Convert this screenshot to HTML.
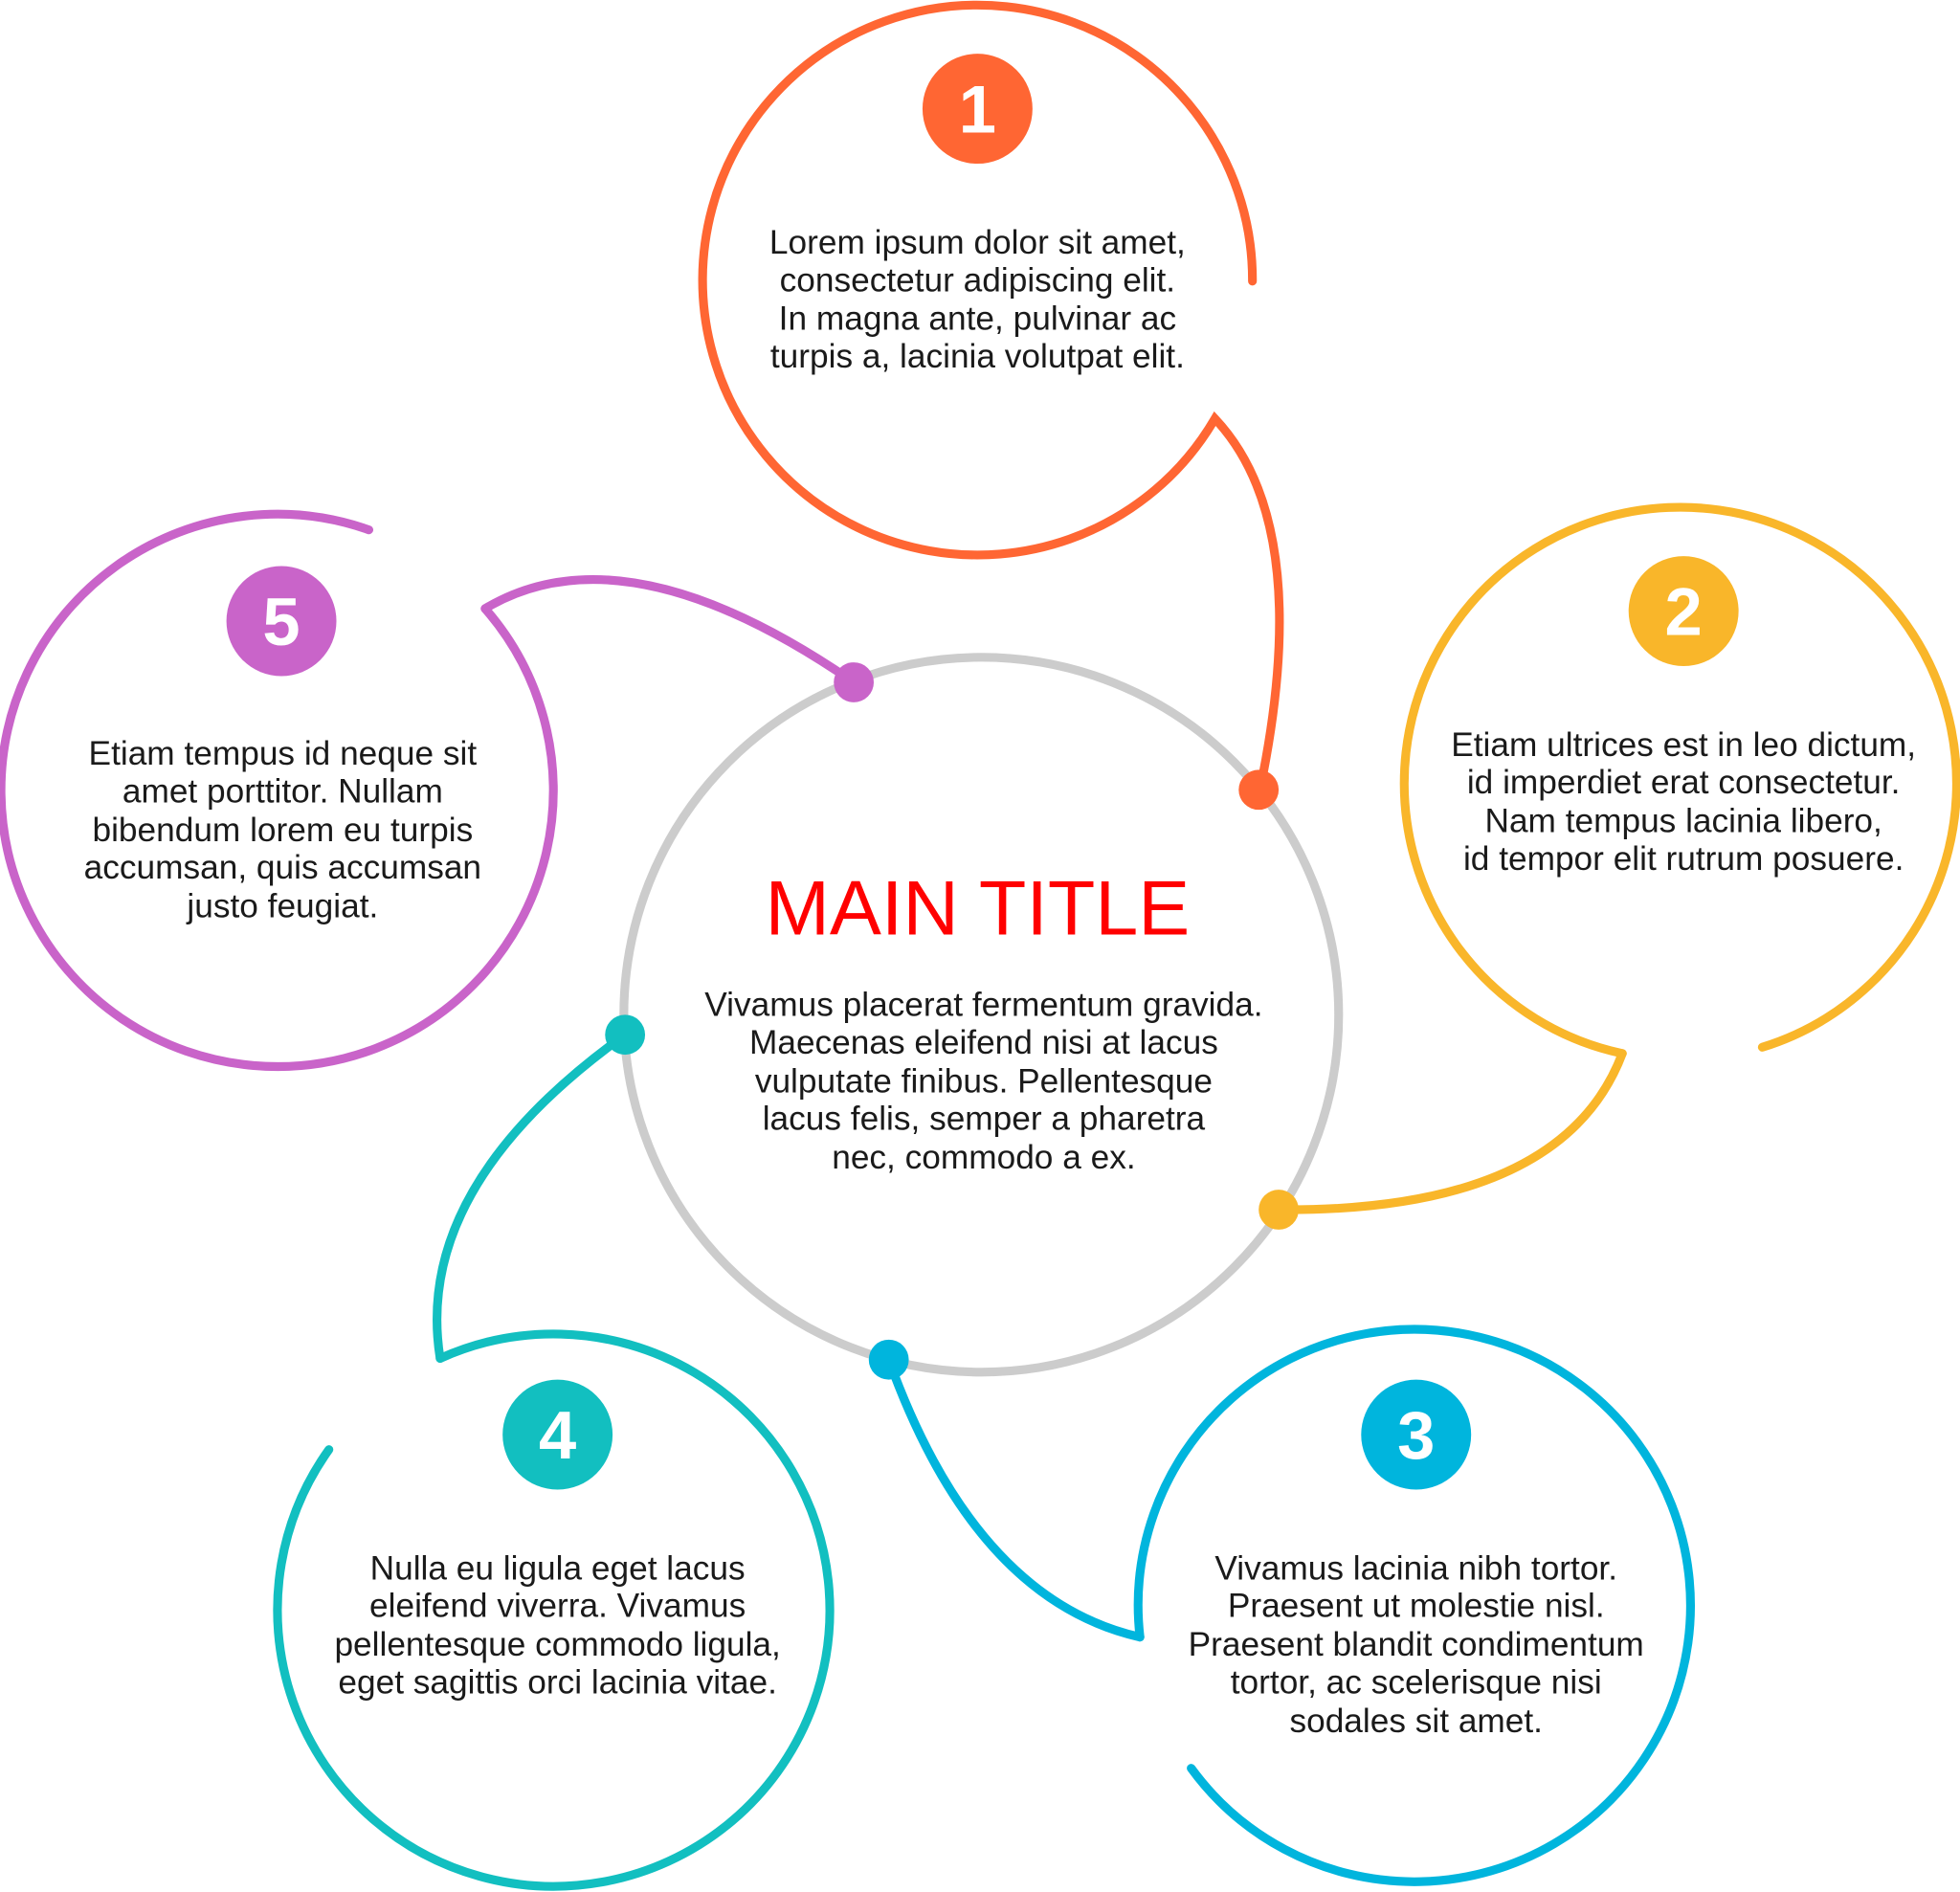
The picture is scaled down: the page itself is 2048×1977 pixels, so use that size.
<!DOCTYPE html>
<html><head><meta charset="utf-8"><style>html,body{margin:0;padding:0;background:#fff}svg{display:block}</style></head>
<body>
<svg width="2048" height="1977" viewBox="0 0 1568 1514" xmlns="http://www.w3.org/2000/svg" font-family="Liberation Sans, sans-serif">
<g fill="none" stroke-width="7" stroke-linecap="round">
<circle cx="785" cy="812" r="286" stroke="#cccccc"/>
<path d="M1002,225 A220,220 0 1 0 972,335 Q1052,420 1008,632" stroke="#FF6633"/>
<path d="M1298,843 A221,221 0 1 1 1410,838" stroke="#F9B62A"/>
<path d="M1298,843 Q1250,970 1023,968" stroke="#F9B62A"/>
<path d="M912,1310 A221,221 0 1 1 953,1415" stroke="#00B5DD"/>
<path d="M912,1310 Q780,1280 711,1088" stroke="#00B5DD"/>
<path d="M263,1160 A221,221 0 1 0 352,1087" stroke="#12BFC0"/>
<path d="M352,1087 Q330,950 500,828" stroke="#12BFC0"/>
<path d="M295,424 A221,221 0 1 0 388,487" stroke="#C964C9"/>
<path d="M388,487 Q500,420 683,546" stroke="#C964C9"/>
</g>
<circle cx="1007" cy="632" r="16" fill="#FF6633"/>
<circle cx="1023" cy="968" r="16" fill="#F9B62A"/>
<circle cx="711" cy="1088" r="16" fill="#00B5DD"/>
<circle cx="500" cy="828" r="16" fill="#12BFC0"/>
<circle cx="683" cy="546" r="16" fill="#C964C9"/>
<g font-weight="bold" font-size="54" fill="#fff" text-anchor="middle">
<circle cx="782" cy="87" r="44" fill="#FF6633"/><text x="782" y="106">1</text>
<circle cx="1347" cy="489" r="44" fill="#F9B62A"/><text x="1347" y="508">2</text>
<circle cx="1133" cy="1148" r="44" fill="#00B5DD"/><text x="1133" y="1167">3</text>
<circle cx="446" cy="1148" r="44" fill="#12BFC0"/><text x="446" y="1167">4</text>
<circle cx="225" cy="497" r="44" fill="#C964C9"/><text x="225" y="516">5</text>
</g>
<g font-size="27" fill="#1a1a1a" text-anchor="middle">
<text x="782" y="203">Lorem ipsum dolor sit amet,</text>
<text x="782" y="233">consectetur adipiscing elit.</text>
<text x="782" y="264">In magna ante, pulvinar ac</text>
<text x="782" y="294">turpis a, lacinia volutpat elit.</text>
<text x="1347" y="605">Etiam ultrices est in leo dictum,</text>
<text x="1347" y="635">id imperdiet erat consectetur.</text>
<text x="1347" y="666">Nam tempus lacinia libero,</text>
<text x="1347" y="696">id tempor elit rutrum posuere.</text>
<text x="1133" y="1264">Vivamus lacinia nibh tortor.</text>
<text x="1133" y="1294">Praesent ut molestie nisl.</text>
<text x="1133" y="1325">Praesent blandit condimentum</text>
<text x="1133" y="1355">tortor, ac scelerisque nisi</text>
<text x="1133" y="1386">sodales sit amet.</text>
<text x="446" y="1264">Nulla eu ligula eget lacus</text>
<text x="446" y="1294">eleifend viverra. Vivamus</text>
<text x="446" y="1325">pellentesque commodo ligula,</text>
<text x="446" y="1355">eget sagittis orci lacinia vitae.</text>
<text x="226" y="612">Etiam tempus id neque sit</text>
<text x="226" y="642">amet porttitor. Nullam</text>
<text x="226" y="673">bibendum lorem eu turpis</text>
<text x="226" y="703">accumsan, quis accumsan</text>
<text x="226" y="734">justo feugiat.</text>
<text x="787" y="813">Vivamus placerat fermentum gravida.</text>
<text x="787" y="843">Maecenas eleifend nisi at lacus</text>
<text x="787" y="874">vulputate finibus. Pellentesque</text>
<text x="787" y="904">lacus felis, semper a pharetra</text>
<text x="787" y="935">nec, commodo a ex.</text>
</g>
<text x="782" y="748" font-size="62" fill="#FF0000" text-anchor="middle">MAIN TITLE</text>
</svg>
</body></html>
